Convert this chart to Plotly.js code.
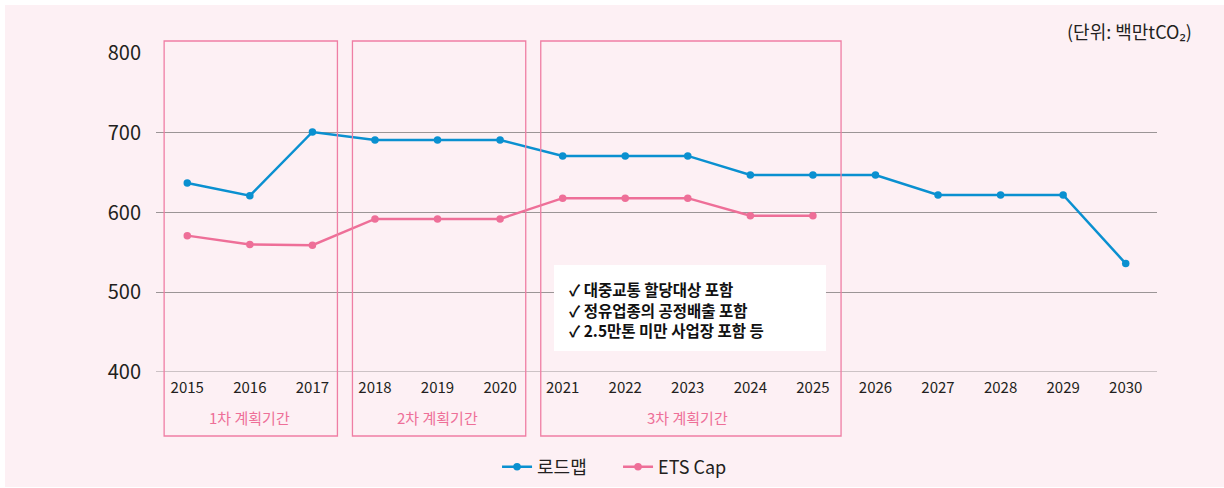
<!DOCTYPE html>
<html>
<head>
<meta charset="utf-8">
<script src="https://cdn.plot.ly/plotly-3.0.1.min.js"></script>
<style>
html,body{margin:0;padding:0;background:#ffffff;}
#chart{position:absolute;left:5px;top:5px;width:1219px;height:482px;}
</style>
</head>
<body>
<div id="chart"></div>
<script>
const years = [2015,2016,2017,2018,2019,2020,2021,2022,2023,2024,2025,2026,2027,2028,2029,2030];
const roadmap = [637,621,701,691,691,691,671,671,671,647,647,647,622,622,622,536];
const capYears = [2015,2016,2017,2018,2019,2020,2021,2022,2023,2024,2025];
const etsCap = [571,560,559,592,592,592,618,618,618,596,596];
const periods = [
  {label:'1차 계획기간', x0:2014.63, x1:2017.40, mid:2016},
  {label:'2차 계획기간', x0:2017.64, x1:2020.41, mid:2019},
  {label:'3차 계획기간', x0:2020.65, x1:2025.45, mid:2023}
];
const noteLines = ['✓ 대중교통 할당대상 포함','✓ 정유업종의 공정배출 포함','✓ 2.5만톤 미만 사업장 포함 등'];
const unitText = '(단위: 백만tCO₂)';
const yTicks = [400,500,600,700,800];

const FONT = '"Noto Sans CJK KR", "Noto Sans", sans-serif';
const BLUE = '#0a90d0';
const PINK = '#ee6f98';
const BOX = '#ef7ea4';
const GRID = '#9b9596';

const traces = [
  {x:years, y:roadmap, name:'로드맵', type:'scatter', mode:'lines+markers',
   line:{color:BLUE,width:2.5}, marker:{color:BLUE,size:7.5}},
  {x:capYears, y:etsCap, name:'ETS Cap', type:'scatter', mode:'lines+markers',
   line:{color:PINK,width:2.5}, marker:{color:PINK,size:7.5}}
];

const shapes = [];
shapes.push({type:'line', xref:'paper', yref:'y', x0:0, x1:1, y0:yTicks[0], y1:yTicks[0],
  line:{color:GRID,width:1}, layer:'below'});
periods.forEach(p=>shapes.push({type:'rect', xref:'x', yref:'paper', x0:p.x0, x1:p.x1, y0:-0.2006, y1:1.0376,
  line:{color:BOX,width:1.3}, fillcolor:'rgba(0,0,0,0)', layer:'above'}));
shapes.push({type:'rect', xref:'paper', yref:'paper', x0:0.3976, x1:0.6693, y0:0.0658, y1:0.3354,
  line:{width:0}, fillcolor:'#ffffff', layer:'above'});

const annotations = periods.map(p=>({x:p.mid, y:-0.144, xref:'x', yref:'paper', text:p.label, showarrow:false,
  font:{family:FONT,size:15,color:PINK}, xanchor:'center', yanchor:'middle'}));
const noteY = [0.2602, 0.1959, 0.1317];
noteLines.forEach((t,i)=>annotations.push({x:0.4106, y:noteY[i], xref:'paper', yref:'paper', text:t, showarrow:false,
  align:'left', xanchor:'left', yanchor:'middle', font:{family:FONT,size:15.5,color:'#111111',weight:'bold'}}));
annotations.push({x:1.037, y:1.069, xref:'paper', yref:'paper', text:unitText, showarrow:false,
  xanchor:'right', yanchor:'middle', font:{family:FONT,size:18,color:'#231f20'}});

const layout = {
  width:1219, height:482,
  paper_bgcolor:'#fdf0f4', plot_bgcolor:'#fdf0f4',
  margin:{l:151, r:67, t:48, b:115, autoexpand:false},
  font:{family:FONT, color:'#231f20'},
  xaxis:{type:'linear', range:[2014.5,2030.5], tickmode:'array', tickvals:years, ticktext:years.map(String),
    showgrid:false, zeroline:false, showline:false, ticks:'', ticklabelstandoff:5,
    tickfont:{size:15,color:'#231f20'}, fixedrange:true},
  yaxis:{range:[400,800], tickmode:'array', tickvals:yTicks, showgrid:true, gridcolor:GRID, gridwidth:1,
    zeroline:false, showline:false, ticks:'', ticklabelstandoff:14, tickfont:{size:20,color:'#231f20'}},
  shapes:shapes, annotations:annotations,
  showlegend:true,
  legend:{orientation:'h', x:0.3407, xanchor:'left', y:-0.298, yanchor:'middle', entrywidth:76, entrywidthmode:'pixels',
    font:{size:18,color:'#231f20'}, bgcolor:'rgba(0,0,0,0)'}
};

Plotly.newPlot('chart', traces, layout, {displayModeBar:false, staticPlot:true});
</script>
</body>
</html>
